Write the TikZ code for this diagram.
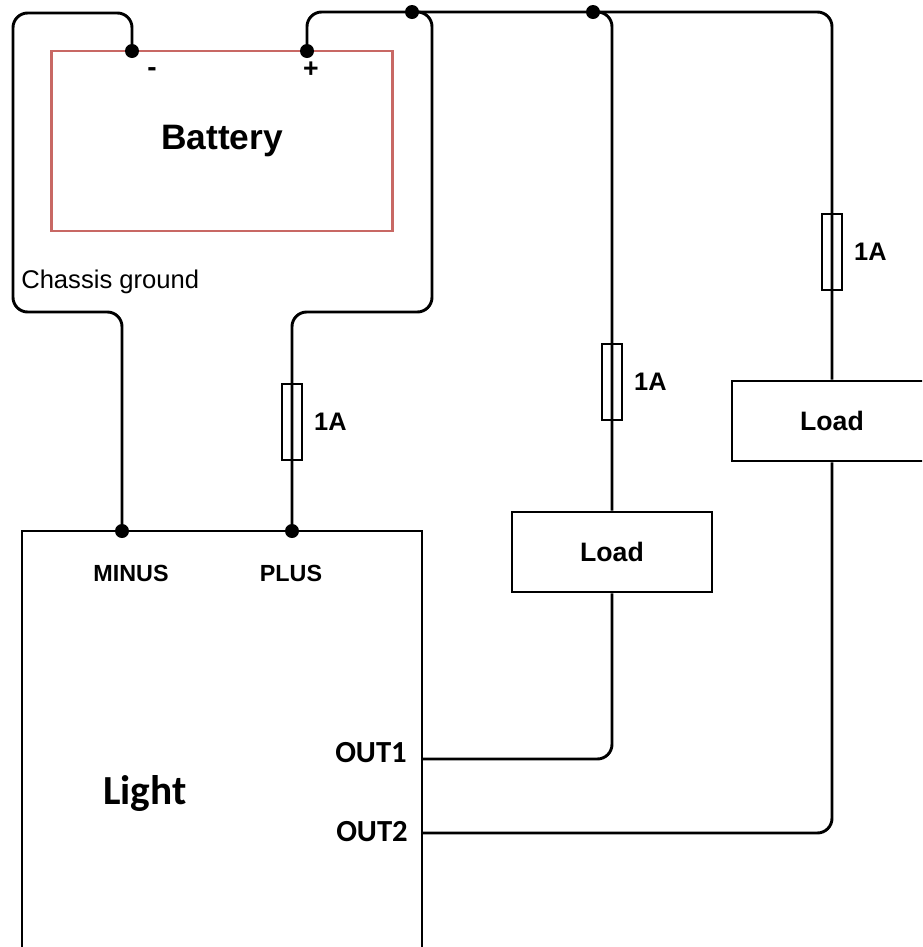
\documentclass[tikz,border=0pt]{standalone}
\usepackage{fontspec}
\setmainfont{Liberation Sans}
\newfontfamily\calibrifont{Carlito}
\usetikzlibrary{positioning}

\definecolor{batteryred}{RGB}{200,104,100}

\begin{document}
\begin{tikzpicture}[
    x=0.75pt, y=-0.75pt,
    wire/.style={line width=2.2pt, rounded corners=11pt},
    battery/.style={rectangle, draw=batteryred, line width=2.2pt, minimum width=256pt, minimum height=135pt, inner sep=0pt, font=\bfseries\fontsize{26.5}{30}\selectfont},
    device/.style={rectangle, draw=black, line width=2.2pt, inner sep=0pt},
    load/.style={device, minimum width=150pt, minimum height=60pt, font=\bfseries\fontsize{20}{24}\selectfont},
    fuse/.style={rectangle, draw=black, line width=1.9pt, minimum width=15pt, minimum height=57pt, inner sep=0pt},
    dot/.style={circle, fill=black, inner sep=0pt, minimum size=10.5pt},
    rating/.style={inner sep=0pt, font=\bfseries\fontsize{19}{22}\selectfont},
    pinlabel/.style={inner sep=0pt, font=\bfseries\fontsize{17.5}{20}\selectfont},
    outlabel/.style={inner sep=0pt, font=\calibrifont\bfseries\fontsize{23}{26}\selectfont}
]
\useasboundingbox (0,0) rectangle (922,947);
\clip (0,0) rectangle (922,947);

% Battery
\node[battery] (battery) at (222,141) {Battery};
\node[dot] (bminus) at (132,51) {};
\node[dot] (bplus) at (307,51) {};
\node[inner sep=0pt, font=\bfseries\fontsize{21}{22}\selectfont] (minussign) at (152,72) {-};
\node[inner sep=0pt, font=\bfseries\fontsize{20}{22}\selectfont] (plussign) at (311,70) {+};
\node[anchor=west, inner sep=0pt, font=\fontsize{19.2}{22}\selectfont] (chassis) at (21,282) {Chassis ground};

% Light
\node[device, anchor=north west, outer sep=0pt, minimum width=300pt, minimum height=440pt] (light) at (22,531) {};
\node[inner sep=0pt, font=\calibrifont\bfseries\fontsize{31}{34}\selectfont] (lighttext) at (145,793) {Light};
\node[dot] (lminus) at (122,531) {};
\node[dot] (lplus) at (292,531) {};
\node[pinlabel] (minuslabel) at (131,573) {MINUS};
\node[pinlabel] (pluslabel) at (291,573) {PLUS};
\node[outlabel, anchor=east] (out1) at (407,753) {OUT1};
\node[outlabel, anchor=east] (out2) at (408,832) {OUT2};
\coordinate (pin1) at (422,759);
\coordinate (pin2) at (422,833);

% Loads
\node[load] (load1) at (612,552) {Load};
\node[load] (load2) at (832,421) {Load};

% Fuses
\node[fuse] (fuse1) at (292,422) {};
\node[fuse] (fuse2) at (612,382) {};
\node[fuse] (fuse3) at (832,252) {};
\node[rating, right=8pt of fuse1] (rating1) {1A};
\node[rating, right=8pt of fuse2] (rating2) {1A};
\node[rating, right=8pt of fuse3] (rating3) {1A};

% Junctions
\node[dot] (j1) at (412,12) {};
\node[dot] (j2) at (593,12) {};

% Wires
\draw[wire] (bminus.center) -- (132,13) -- (13,13) -- (13,312) -- (122,312) -- (lminus.center);
\draw[wire] (bplus.center) -- (307,12) -- (832,12) -- (load2.north);
\draw[wire] (j1.center) -- (432,12) -- (432,312) -- (292,312) -- (lplus.center);
\draw[wire] (j2.center) -- (612,12) -- (load1.north);
\draw[wire] (load1.south) |- (pin1);
\draw[wire] (load2.south) |- (pin2);
\end{tikzpicture}
\end{document}
